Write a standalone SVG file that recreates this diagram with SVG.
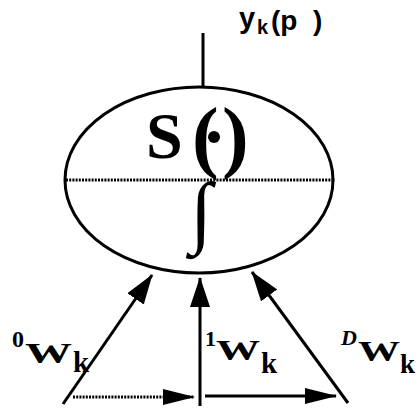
<svg xmlns="http://www.w3.org/2000/svg" width="416" height="410" viewBox="0 0 416 410">
<style>
.ln{stroke:#000;stroke-width:3;fill:none}
.dot{stroke:#000;stroke-width:3;fill:none;stroke-dasharray:2 1.2}
.t{font-family:"Liberation Serif",serif;font-weight:bold;fill:#000}
.s{font-family:"Liberation Sans",sans-serif;font-weight:bold;fill:#000}
</style>
<defs>
<marker id="ah" markerWidth="32" markerHeight="22" refX="29" refY="10" orient="auto" markerUnits="userSpaceOnUse">
<path d="M0,0 L30,10 L0,20 Z" fill="#000"/>
</marker>
<marker id="ah2" markerWidth="34" markerHeight="18" refX="31" refY="8" orient="auto" markerUnits="userSpaceOnUse">
<path d="M0,0 L32,8 L0,16 Z" fill="#000"/>
</marker>
</defs>
<rect width="416" height="410" fill="#fff"/>
<g id="neuron">
<ellipse cx="199" cy="180" rx="134" ry="93" class="ln"/>
<line x1="66" y1="180" x2="335" y2="180" class="dot"/>
<text x="146" y="158" class="t" font-size="66">S</text>
<text x="192" y="163" class="t" font-size="80">(</text>
<circle cx="214" cy="137" r="6" fill="#000"/>
<text x="222" y="163" class="t" font-size="80">)</text>
<text x="190" y="238" class="t" font-size="80">∫</text>
</g>
<g id="output">
<text x="239" y="28" class="s" font-size="29">y</text>
<text x="257" y="34" class="s" font-size="20">k</text>
<text x="271" y="30" class="s" font-size="28">(p</text>
<text x="313" y="30" class="s" font-size="28">)</text>
</g>
<g id="labels">
<text x="12" y="347" class="t" font-size="24">0</text>
<text x="25" y="363" class="t" font-size="30" textLength="47" lengthAdjust="spacingAndGlyphs">W</text>
<text x="73" y="372" class="t" font-size="29">k</text>
<text x="205" y="346" class="t" font-size="22">1</text>
<text x="216" y="360" class="t" font-size="30" textLength="44" lengthAdjust="spacingAndGlyphs">W</text>
<text x="261" y="373" class="t" font-size="29">k</text>
<text x="341" y="345" class="t" font-size="22" font-style="italic">D</text>
<text x="358" y="361" class="t" font-size="30" textLength="42" lengthAdjust="spacingAndGlyphs">W</text>
<text x="400" y="373" class="t" font-size="27">k</text>
</g>
<g id="connectors">
<line x1="203" y1="33" x2="203" y2="87" class="ln"/>
<line x1="63" y1="404" x2="152" y2="275" class="ln" marker-end="url(#ah)"/>
<line x1="200" y1="406" x2="200" y2="278" class="ln" marker-end="url(#ah)"/>
<line x1="348" y1="403" x2="252" y2="272" class="ln" marker-end="url(#ah)"/>
<line x1="73" y1="397" x2="194" y2="397" class="dot" marker-end="url(#ah2)"/>
<line x1="205" y1="396" x2="336" y2="396" class="ln" marker-end="url(#ah2)"/>
</g>
</svg>
